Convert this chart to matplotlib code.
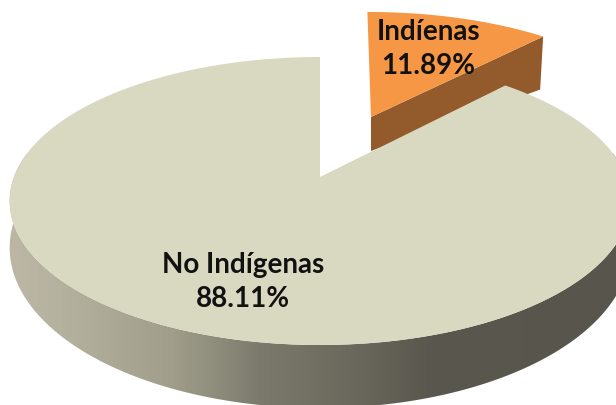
#!/usr/bin/env python3
# Tilted 3D pie with one slice pulled out, drawn by hand since matplotlib's
# pie has no perspective
import matplotlib.pyplot as plt
import numpy as np

from matplotlib.colors import LinearSegmentedColormap
from matplotlib.patches import Polygon

categories = ["Indíenas", "No Indígenas"]
values = [11.89, 88.11]

WIDTH = 616
HEIGHT = 405

APEX_X = 320

# Perspective of the top and bottom face of the disc (pixels)
TOP_R, TOP_A, TOP_B = 306, -110.5, 177
LOW_R, LOW_A, LOW_B = 306, -119, 221
PERSP = 1 / 6

SIDE_COLOURS = [(0.0, "#bdb8a6"), (0.12, "#b2b09c"), (0.28, "#a09e8a"), (0.42, "#7c7a6c"),
                (0.58, "#6a685c"), (0.70, "#5a584e"), (1.0, "#57554c")]

TOP_COLOUR = "#d9d8c0"
ORANGE = "#f59745"
ORANGE_DARK = "#935b2b"

def project(angles, r, a, b):
  # Angles in degrees, clockwise from 12 o'clock
  u = np.sin(np.radians(angles))
  v = np.cos(np.radians(angles))
  w = 1 + PERSP * v
  return np.column_stack([APEX_X + r * u / w, (a * v + b) / w])

def pull_out(points, apex):
  # The pulled out slice sits further back, so it is smaller than the disc
  dx = points[:, 0] - APEX_X
  dy = points[:, 1] - TOP_B
  return np.column_stack([apex[0] + 0.944 * dx + 0.03 * dy, apex[1] - 0.002 * dx + 0.875 * dy])

fig = plt.figure(figsize=(WIDTH / 100, HEIGHT / 100), dpi=100)
ax = fig.add_axes([0, 0, 1, 1])
ax.axis("off")

split = 360 * values[0] / sum(values)

# Pulled out slice first, the disc covers the lower end of its cut wall
apex = (371, 117)
arc = pull_out(project(np.linspace(0, split, 40), TOP_R, TOP_A, TOP_B), apex)
corner = arc[-1]
ax.add_patch(Polygon([apex, corner, (corner[0] - 3, corner[1] + 53), (apex[0], apex[1] + 34)],
                     closed=True, fc=ORANGE_DARK, ec="none"))
ax.add_patch(Polygon(np.vstack([[apex], arc]), closed=True, fc=ORANGE, ec="none"))

# Outer wall of the disc, shaded from left to right
front = np.linspace(80, 280, 200)
wall = np.vstack([project(front, TOP_R, TOP_A, TOP_B), project(front[::-1], LOW_R, LOW_A, LOW_B)])
wall_patch = Polygon(wall, closed=True, fc="none", ec="none")
ax.add_patch(wall_patch)
cmap = LinearSegmentedColormap.from_list("side", SIDE_COLOURS)
image = ax.imshow(np.linspace(0, 1, 256).reshape(1, -1), cmap=cmap, aspect="auto",
                  extent=(0, WIDTH, HEIGHT, 0), vmin=0, vmax=1)
image.set_clip_path(wall_patch)

# Top of the disc
angles = np.linspace(split, 360, 300)
top = np.vstack([[(APEX_X, TOP_B)], project(angles, TOP_R, TOP_A, TOP_B)])
ax.add_patch(Polygon(top, closed=True, fc=TOP_COLOUR, ec="none"))

font = dict(family="Lato", fontsize=20, fontweight="bold", color="#111111",
            ha="center", va="center")
ax.text(429, 32, categories[0], **font)
ax.text(428, 66, f"{values[0]:.2f}%", **font)
ax.text(243.5, 265, categories[1], **font)
ax.text(243, 299, f"{values[1]:.2f}%", **font)

ax.set_xlim(0, WIDTH)
ax.set_ylim(HEIGHT, 0)

fig.savefig("out.png", dpi=100)
